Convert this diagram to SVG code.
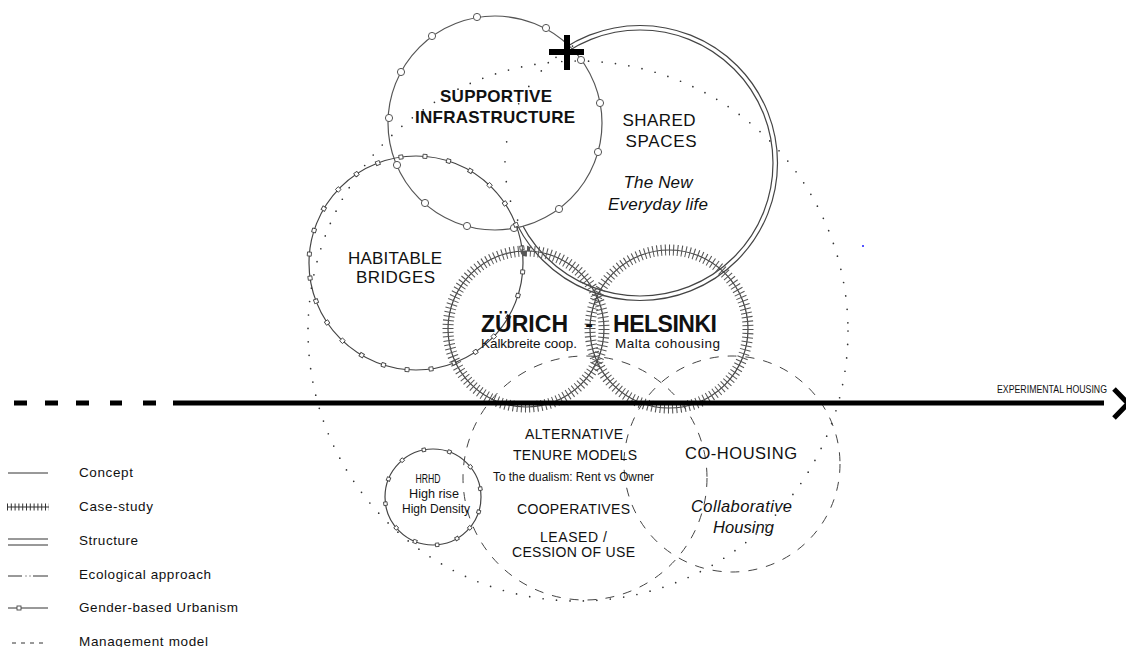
<svg xmlns="http://www.w3.org/2000/svg" xmlns:xlink="http://www.w3.org/1999/xlink" width="1126" height="647" viewBox="0 0 1126 647">
<style>
text{font-family:"Liberation Sans",Arial,sans-serif;fill:#111}
.c{text-anchor:middle}
.b{font-weight:bold}
.i{font-style:italic}
.line{fill:none;stroke:#444;stroke-width:1.2}
.tick{fill:none;stroke:#555;stroke-width:11;stroke-dasharray:1 3}
.dash{fill:none;stroke:#444;stroke-width:1;stroke-dasharray:9 9}
.dot{fill:none;stroke:#333;stroke-width:1.7;stroke-linecap:round;stroke-dasharray:0 13.5}
.hid{fill:none;stroke:#333;stroke-width:1.7;stroke-linecap:round;stroke-dasharray:0 20}
.mk{fill:#fff;stroke:#555;stroke-width:1}
.sq{fill:#fff;stroke:#444;stroke-width:0.9}
.lg{fill:none;stroke:#333;stroke-width:1}
</style>
<defs>
<rect id="sqH" class="sq" x="521" y="261" width="4" height="4"/>
<rect id="sqR" class="sq" x="479.25" y="495.25" width="3.5" height="3.5"/>
</defs>

<!-- Shared spaces (structure, double circle) -->
<g id="node-shared">
<circle class="line" cx="640" cy="163" r="137.5"/>
<circle class="line" cx="640" cy="163" r="133"/>
</g>

<!-- Supportive infrastructure -->
<g id="node-supportive">
<circle cx="495" cy="123" r="107" fill="#fff" stroke="#555" stroke-width="1.2"/>
<g class="mk">
<circle cx="477" cy="17" r="3.6"/><circle cx="546" cy="28" r="3.6"/><circle cx="581" cy="60" r="3.6"/>
<circle cx="600" cy="103" r="3.6"/><circle cx="598" cy="152" r="3.6"/><circle cx="559" cy="209" r="3.6"/>
<circle cx="514" cy="228" r="3.6"/><circle cx="467" cy="226" r="3.6"/><circle cx="425" cy="203" r="3.6"/>
<circle cx="397" cy="165" r="3.6"/><circle cx="389" cy="118" r="3.6"/><circle cx="401" cy="72" r="3.6"/>
<circle cx="432" cy="36" r="3.6"/>
</g>
<path class="hid" d="M572.5 46.1 A135 135 0 0 0 519.7 224.3"/>
<path d="M549 52H584M567 35V70" stroke="#000" stroke-width="6" fill="none"/>
</g>

<!-- Big dotted circle -->
<g id="node-ecological">
<circle class="dot" cx="578" cy="331" r="270"/>
</g>

<!-- Habitable bridges -->
<g id="node-habitable">
<circle class="line" cx="416" cy="263" r="107" stroke-width="1"/>
<use xlink:href="#sqH" transform="rotate(4.8 416 263)"/>
<use xlink:href="#sqH" transform="rotate(17.7 416 263)"/>
<use xlink:href="#sqH" transform="rotate(30.5 416 263)"/>
<use xlink:href="#sqH" transform="rotate(43.4 416 263)"/>
<use xlink:href="#sqH" transform="rotate(56.2 416 263)"/>
<use xlink:href="#sqH" transform="rotate(69.1 416 263)"/>
<use xlink:href="#sqH" transform="rotate(81.9 416 263)"/>
<use xlink:href="#sqH" transform="rotate(94.8 416 263)"/>
<use xlink:href="#sqH" transform="rotate(107.7 416 263)"/>
<use xlink:href="#sqH" transform="rotate(120.5 416 263)"/>
<use xlink:href="#sqH" transform="rotate(133.4 416 263)"/>
<use xlink:href="#sqH" transform="rotate(146.2 416 263)"/>
<use xlink:href="#sqH" transform="rotate(159.1 416 263)"/>
<use xlink:href="#sqH" transform="rotate(171.9 416 263)"/>
<use xlink:href="#sqH" transform="rotate(184.8 416 263)"/>
<use xlink:href="#sqH" transform="rotate(197.7 416 263)"/>
<use xlink:href="#sqH" transform="rotate(210.5 416 263)"/>
<use xlink:href="#sqH" transform="rotate(223.4 416 263)"/>
<use xlink:href="#sqH" transform="rotate(236.2 416 263)"/>
<use xlink:href="#sqH" transform="rotate(249.1 416 263)"/>
<use xlink:href="#sqH" transform="rotate(261.9 416 263)"/>
<use xlink:href="#sqH" transform="rotate(274.8 416 263)"/>
<use xlink:href="#sqH" transform="rotate(287.7 416 263)"/>
<use xlink:href="#sqH" transform="rotate(300.5 416 263)"/>
<use xlink:href="#sqH" transform="rotate(313.4 416 263)"/>
<use xlink:href="#sqH" transform="rotate(326.2 416 263)"/>
<use xlink:href="#sqH" transform="rotate(339.1 416 263)"/>
<use xlink:href="#sqH" transform="rotate(351.9 416 263)"/>
</g>

<!-- Case studies -->
<g id="node-zurich">
<circle class="line" cx="526" cy="329" r="78"/>
<circle class="tick" cx="526" cy="329" r="78" pathLength="480"/>
</g>
<g id="node-helsinki">
<circle class="line" cx="669" cy="329" r="79"/>
<circle class="tick" cx="669" cy="329" r="79" pathLength="480"/>
</g>

<!-- Management model circles -->
<g id="node-tenure">
<circle class="dash" cx="585" cy="478" r="122"/>
</g>
<g id="node-cohousing">
<circle class="dash" cx="732" cy="464" r="108"/>
</g>

<!-- HRHD -->
<g id="node-hrhd">
<circle class="line" cx="433" cy="497" r="48" stroke-width="1.1"/>
<use xlink:href="#sqR" transform="rotate(259 433 497)"/>
<use xlink:href="#sqR" transform="rotate(290 433 497)"/>
<use xlink:href="#sqR" transform="rotate(321 433 497)"/>
<use xlink:href="#sqR" transform="rotate(350 433 497)"/>
<use xlink:href="#sqR" transform="rotate(18 433 497)"/>
<use xlink:href="#sqR" transform="rotate(40 433 497)"/>
<use xlink:href="#sqR" transform="rotate(60 433 497)"/>
<use xlink:href="#sqR" transform="rotate(85 433 497)"/>
<use xlink:href="#sqR" transform="rotate(112 433 497)"/>
<use xlink:href="#sqR" transform="rotate(140 433 497)"/>
<use xlink:href="#sqR" transform="rotate(172 433 497)"/>
<use xlink:href="#sqR" transform="rotate(202 433 497)"/>
<use xlink:href="#sqR" transform="rotate(230 433 497)"/>
<text class="c" x="428" y="483" font-size="12" textLength="25" lengthAdjust="spacingAndGlyphs">HRHD</text>
<text class="c" x="434" y="498" font-size="12" textLength="50" lengthAdjust="spacingAndGlyphs">High rise</text>
<text class="c" x="436" y="513" font-size="12" textLength="68" lengthAdjust="spacingAndGlyphs">High Density</text>
</g>

<!-- Axis -->
<g id="connectors">
<path d="M14 403H27M45 403H58M76 403H89M110 403H122M143 403H156" stroke="#000" stroke-width="5" fill="none"/>
<path d="M173 403H1104" stroke="#000" stroke-width="5" fill="none"/>
<path d="M1114 389L1128 403.5L1114 418" stroke="#000" stroke-width="5" fill="none"/>
<text x="997" y="393" font-size="10" textLength="110" lengthAdjust="spacingAndGlyphs">EXPERIMENTAL HOUSING</text>
</g>

<!-- Labels -->
<g id="labels">
<text class="c b" x="496" y="102" font-size="17" textLength="112">SUPPORTIVE</text>
<text class="c b" x="495" y="123" font-size="17" textLength="160">INFRASTRUCTURE</text>
<text class="c" x="659" y="126" font-size="17" textLength="73">SHARED</text>
<text class="c" x="661" y="147" font-size="17" textLength="71">SPACES</text>
<text class="c i" x="658" y="188" font-size="17" textLength="69">The New</text>
<text class="c i" x="658" y="210" font-size="17" textLength="100">Everyday life</text>
<text class="c" x="395" y="264" font-size="17" textLength="94">HABITABLE</text>
<text class="c" x="395.5" y="283" font-size="17" textLength="79">BRIDGES</text>
<text class="b" x="481" y="332" font-size="23" textLength="87">ZÜRICH</text>
<text class="c b" x="589" y="332" font-size="23">-</text>
<text class="b" x="613" y="332" font-size="23" textLength="104">HELSINKI</text>
<text x="481" y="348" font-size="13.5" textLength="96">Kalkbreite coop.</text>
<text x="615" y="348" font-size="13.5" textLength="105">Malta cohousing</text>
<text class="c" x="574" y="439" font-size="14" textLength="98">ALTERNATIVE</text>
<text class="c" x="575" y="460" font-size="14" textLength="124">TENURE MODELS</text>
<text class="c" x="573.5" y="481" font-size="12" textLength="161" lengthAdjust="spacingAndGlyphs">To the dualism: Rent vs Owner</text>
<text class="c" x="573.5" y="514" font-size="14" textLength="113">COOPERATIVES</text>
<text class="c" x="573.5" y="542" font-size="14" textLength="67">LEASED /</text>
<text class="c" x="573.5" y="557" font-size="14" textLength="123">CESSION OF USE</text>
<text class="c" x="741" y="459" font-size="16.5" textLength="112">CO-HOUSING</text>
<text class="c i" x="741.5" y="512" font-size="16.5" textLength="101">Collaborative</text>
<text class="c i" x="743.5" y="533" font-size="16.5" textLength="61">Housing</text>
</g>

<rect x="862" y="245" width="2" height="2" fill="#55f"/>

<!-- Legend -->
<g id="legend">
<path class="lg" d="M8 473H48"/>
<path class="lg" d="M7 507H49"/>
<path d="M7 507H49" stroke="#333" stroke-width="7" stroke-dasharray="1 2.8" fill="none"/>
<path class="lg" d="M8 539H48M8 545H48"/>
<path class="lg" d="M8 576H22M33 576H48"/>
<path d="M25.5 576H26.5M29.5 576H30.5" stroke="#333" stroke-width="1.2" fill="none"/>
<path class="lg" d="M8 608H48"/>
<rect class="sq" x="17" y="606" width="4" height="4"/>
<path class="lg" d="M12 643H48" stroke-dasharray="4 5"/>
<text x="79" y="477" font-size="13.5" textLength="54">Concept</text>
<text x="79" y="511" font-size="13.5" textLength="74">Case-study</text>
<text x="79" y="545" font-size="13.5" textLength="59">Structure</text>
<text x="79" y="579" font-size="13.5" textLength="132">Ecological approach</text>
<text x="79" y="612" font-size="13.5" textLength="159">Gender-based Urbanism</text>
<text x="79" y="646" font-size="13.5" textLength="129">Management model</text>
</g>
</svg>
